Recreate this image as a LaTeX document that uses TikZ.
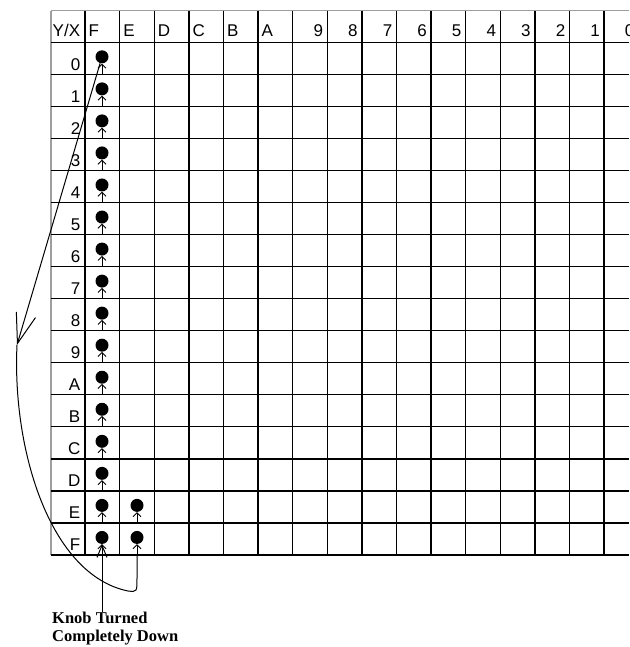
\documentclass[tikz,border=0pt]{standalone}
\usepackage{fontspec}
\setmainfont{Liberation Sans}
\newfontfamily\capfont{Liberation Serif}
\usetikzlibrary{arrows.meta}
\definecolor{rimgray}{gray}{0.62}

\begin{document}
\begin{tikzpicture}[x=1pt, y=-1pt,
  cell/.style={font=\fontsize{17}{20}\selectfont, inner sep=0pt},
  knob/.style={circle, fill=black, inner sep=0pt, minimum size=13pt},
  push/.style={line width=0.9pt, -{Straight Barb[length=4pt, width=8pt]}},
  sweep/.style={line width=1pt}]
\useasboundingbox (0,0) rectangle (629,647);
\clip (0,0) rectangle (629,647);
\def\cw{34.6}
\def\rh{32.04}
\draw[rimgray, line width=1.2pt] (51,10.7) -- (629,10.7);
\draw[rimgray, line width=1.2pt] (51,10.7) -- (51,554.9);
\foreach \r in {0,...,16} {
\draw[line width=1.4pt] (51,42.3+\r*\rh) -- (629,42.3+\r*\rh);
}
\foreach \k in {0,...,15} {
\draw[line width=1.4pt] (85+\k*\cw,10.7) -- (85+\k*\cw,554.9);
}
\node[cell, anchor=base west] (yx) at (52.5,37) {Y/X};
\foreach \lab [count=\i from 0] in {F,E,D,C,B,A} {
\node[cell, anchor=base west] (h\lab) at (88.5+\i*\cw,37) {\lab};
}
\foreach \lab [count=\i from 7] in {9,8,7,6,5,4,3,2,1,0} {
\node[cell, anchor=base east] (h\lab) at (81+\i*\cw,37) {\lab};
}
\foreach \lab [count=\r from 0] in {0,1,2,3,4,5,6,7,8,9,A,B,C,D,E,F} {
\node[cell, anchor=base east] (r\lab) at (80.5,42.3+\r*\rh+\rh-4) {\lab};
\node[knob] (kF-\lab) at (102,42.3+\r*\rh+\rh/2-1.5) {};
\coordinate (bF-\lab) at (102,42.3+\r*\rh+\rh);
\draw[push] (bF-\lab) -- (kF-\lab);
}
\foreach \lab [count=\r from 14] in {E,F} {
\node[knob] (kE-\lab) at (137,42.3+\r*\rh+\rh/2-1.5) {};
\coordinate (bE-\lab) at (137,42.3+\r*\rh+\rh);
\draw[push] (bE-\lab) -- (kE-\lab);
}
\node[font=\capfont\bfseries\fontsize{16.5}{18}\selectfont, align=left, anchor=north west, inner sep=0pt] (knoblabel) at (52,612) {Knob Turned\\Completely Down};
\draw[line width=1pt, -{Straight Barb[length=12pt, width=10pt]}] (knoblabel.north -| kF-F.south) -- (kF-F);
\coordinate (turn) at (17,345);
\coordinate (hook) at (128,591);
\draw[sweep, -{Straight Barb[length=30pt, width=20pt]}] (kF-0) -- (turn);
\draw[sweep] (turn) .. controls (12,450) and (50,575) .. (hook) .. controls (137,592) .. (137,578) -- (bE-F);
\end{tikzpicture}
\end{document}
